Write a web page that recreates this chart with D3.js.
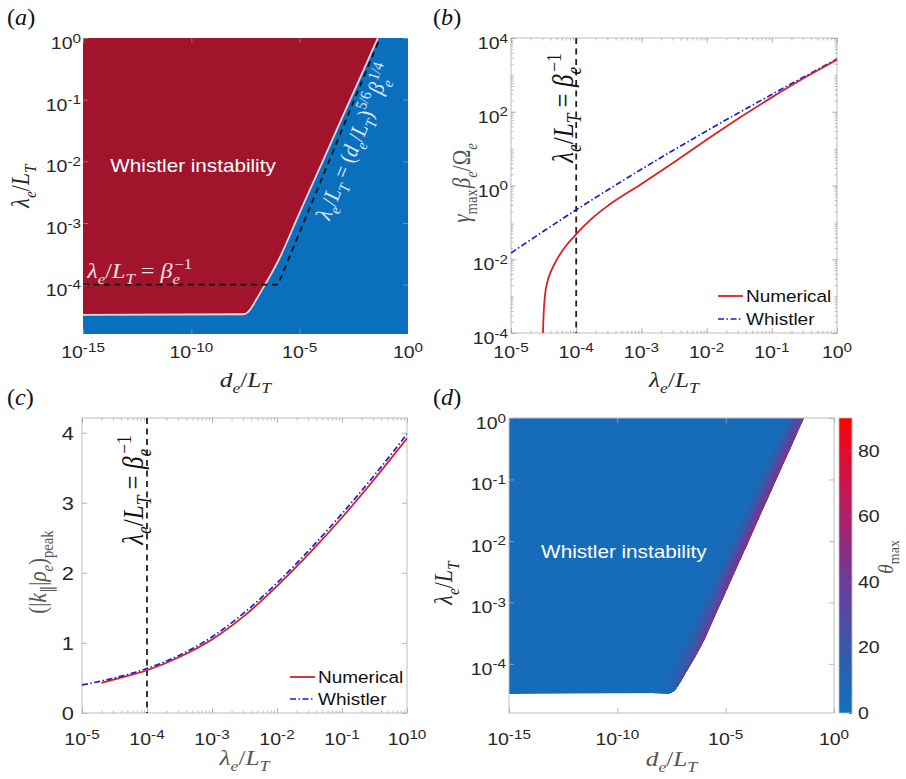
<!DOCTYPE html>
<html><head><meta charset="utf-8">
<script src="https://cdn.jsdelivr.net/npm/d3@7"></script>
<style>body{margin:0;background:#fff;}svg{display:block;}</style>
</head><body>
<script>
// ================= DATA =================
// Panel (a)/(d): instability boundary, log10(d_e/L_T) and log10(lambda_e/L_T)
const boundaryLogDe  = [-15, -7.6, -7.4, -7.2, -7.0, -6.7, -6.4, -6.0, -5.0, -4.0, -3.0, -2.0, -1.39];
const boundaryLogLam = [-4.49, -4.48, -4.45, -4.36, -4.24, -4.06, -3.88, -3.62, -2.83, -2.05, -1.26, -0.48, 0];
// theory lines (dashed): lambda = 1/beta and lambda = (d)^{5/6} beta^{1/4}
const theoryLogDe  = [-15, -6.0, -1.3];
const theoryLogLam = [-4, -4, 0];
// Panel (d): theta_max at the boundary (deg)
const edgeTheta = [0, 2, 8, 14, 20, 27, 33, 38, 46, 50, 50, 46, 40];
const baseTheta = 5;
const cbStops  = [0, 20, 40, 60, 80, 90];
const cbColors = ["#0b72be", "#3858a8", "#6c3b9c", "#b0206a", "#e30b2e", "#ff0000"];
const cbTicks  = [0, 20, 40, 60, 80];
// Panel (b): gamma_max beta_e / Omega_e vs lambda_e/L_T (log10)
const gNumLogLam = [-4.51, -4.50, -4.48, -4.44, -4.38, -4.29, -4.15, -4.0, -3.75, -3.5, -3.0, -2.5, -2.0, -1.5, -1.0, -0.5, 0];
const gNumLogVal = [-4.0, -3.5, -3.0, -2.6, -2.3, -1.985, -1.62, -1.32, -0.88, -0.53, 0.04, 0.63, 1.24, 1.83, 2.39, 2.92, 3.41];
const gWhLogLam  = [-5, -4, -3, -2, -1, 0];
const gWhLogVal  = [-1.83, -0.66, 0.44, 1.48, 2.47, 3.43];
const betaInvLog = -4;
// Panel (c): (|k_par| rho_e)_peak vs lambda_e/L_T
const kNumLogLam = [-4.7, -4.5, -4, -3.5, -3, -2.5, -2, -1.5, -1, -0.5, 0];
const kNumVal    = [0.43, 0.48, 0.61, 0.80, 1.05, 1.39, 1.81, 2.28, 2.79, 3.34, 3.92];
const kWhLogLam  = [-5, -4.5, -4, -3.5, -3, -2.5, -2, -1.5, -1, -0.5, 0];
const kWhVal     = [0.40, 0.50, 0.635, 0.825, 1.085, 1.435, 1.855, 2.33, 2.845, 3.395, 3.98];
// tick labels
const aXTickExp = [-15, -10, -5, 0];
const aYTickExp = [0, -1, -2, -3, -4];
const bXTickExp = [-5, -4, -3, -2, -1, 0];
const bYTickExp = [4, 2, 0, -2, -4];
const cXTickExp = [-5, -4, -3, -2, -1, 0];
const cXTickLab = ["-5", "-4", "-3", "-2", "-1", "10"];
const cYTicks   = [0, 1, 2, 3, 4];

// ================= STYLE / LAYOUT =================
const SANS = '"Liberation Sans", Arial, Helvetica, sans-serif';
const SERIF = '"Liberation Serif", "Times New Roman", serif';
const SX = 1.15;
const RED = "#a2132c", BLUE = "#0a70bd";
const NUMC = "#dc2020", WHC = "#1c1cd8";
const FRAME = "#bdbdbd", TICK = "#a8a8a8", LAB = "#262626";

const PA = {x0: 83, x1: 408, y0: 38, y1: 334};
const PB = {x0: 511, x1: 837, y0: 38, y1: 333};
const PC = {x0: 82, x1: 407, y0: 418, y1: 713};
const PD = {x0: 509, x1: 834, y0: 418, y1: 713};
const CB = {x0: 839, x1: 852, y0: 418, y1: 713};

const svg = d3.select("body").append("svg").attr("width", 906).attr("height", 779);
const defs = svg.append("defs");

function txt(parent, x, y, parts, o = {}) {
  const size = o.size || 17;
  const t = parent.append("text")
    .attr("transform", `translate(${x},${y}) scale(${o.sx ?? SX},1) rotate(${o.rot || 0})`)
    .attr("text-anchor", o.anchor || "start")
    .attr("fill", o.fill || LAB)
    .attr("font-family", o.family || SANS)
    .attr("font-size", size);
  let off = 0;
  for (const p of parts) {
    const [s, k = "n", it = 0, dx = 0] = p;
    let target = 0, fs = size;
    if (k === "sb") { target = size * 0.28; fs = size * 0.7; }
    if (k === "sp") { target = -size * 0.42; fs = size * 0.7; }
    if (k === "tsp") { target = -size * 0.38; fs = size * 0.78; }
    const ts = t.append("tspan").attr("dy", target - off).attr("font-size", fs).text(s);
    if (dx) ts.attr("dx", dx);
    if (it) ts.attr("font-style", "italic");
    off = target;
  }
  return t;
}
const tickLab = e => [["10"], [String(e), "tsp"]];
function logMinors(lo, hi) {
  const out = [];
  for (let k = lo; k < hi; k++) for (let m = 1; m < 10; m++) out.push(m * Math.pow(10, k));
  return out;
}
function ticks(g, P, xs, ys, xVals, yVals, size, col) {
  const mk = (axis, tr, vals) => {
    const a = g.append("g").attr("transform", tr)
      .call(axis.tickValues(vals).tickSizeInner(-size).tickSizeOuter(0).tickFormat(""));
    a.select(".domain").remove();
    a.selectAll("line").attr("stroke", col).attr("stroke-width", 0.8);
  };
  if (xVals) { mk(d3.axisBottom(xs), `translate(0,${P.y1})`, xVals); mk(d3.axisTop(xs), `translate(0,${P.y0})`, xVals); }
  if (yVals) { mk(d3.axisLeft(ys), `translate(${P.x0},0)`, yVals); mk(d3.axisRight(ys), `translate(${P.x1},0)`, yVals); }
}
function frame(g, P, col) {
  g.append("rect").attr("x", P.x0).attr("y", P.y0).attr("width", P.x1 - P.x0).attr("height", P.y1 - P.y0)
    .attr("fill", "none").attr("stroke", col).attr("stroke-width", 1);
}
function clip(id, P) {
  defs.append("clipPath").attr("id", id).append("rect")
    .attr("x", P.x0).attr("y", P.y0).attr("width", P.x1 - P.x0).attr("height", P.y1 - P.y0);
}
const pow = e => Math.pow(10, e);
const LamLT = [["λ", "n", 1], ["e", "sb", 1], ["/", "n", 0], ["L", "n", 1], ["T", "sb", 1]];
const DeLT  = [["d", "n", 1], ["e", "sb", 1], ["/", "n", 0], ["L", "n", 1], ["T", "sb", 1]];
const BetaInvLabel = [["λ", "n", 1], ["e", "sb", 1], ["/", "n", 0], ["L", "n", 1], ["T", "sb", 1],
  [" = ", "n", 0], ["β", "n", 1], ["e", "sb", 1], ["−1", "sp", 0, -5]];

// ================= PANEL (a) =================
{
  const g = svg.append("g");
  const xs = d3.scaleLog().domain([1e-15, 1]).range([PA.x0, PA.x1]);
  const ys = d3.scaleLog().domain([pow(-4.8), 1]).range([PA.y1, PA.y0]);
  clip("clipA", PA);
  const pg = g.append("g").attr("clip-path", "url(#clipA)");
  pg.append("rect").attr("x", PA.x0).attr("y", PA.y0).attr("width", PA.x1 - PA.x0).attr("height", PA.y1 - PA.y0).attr("fill", BLUE);
  const bpts = boundaryLogDe.map((d, i) => [xs(pow(d)), ys(pow(boundaryLogLam[i]))]);
  const poly = [[xs(1e-15), ys(1)], ...bpts, [xs(pow(boundaryLogDe[boundaryLogDe.length - 1])), ys(1)]];
  pg.append("path").attr("d", d3.line().curve(d3.curveLinear)(poly) + "Z").attr("fill", RED);
  pg.append("path").attr("d", d3.line().curve(d3.curveMonotoneX)(bpts)).attr("fill", "none")
    .attr("stroke", "#ead8de").attr("stroke-width", 1.8);
  const tpts = theoryLogDe.map((d, i) => [xs(pow(d)), ys(pow(theoryLogLam[i]))]);
  pg.append("path").attr("d", d3.line()(tpts)).attr("fill", "none").attr("stroke", "#111")
    .attr("stroke-width", 1.8).attr("stroke-dasharray", "6,4.5");
  ticks(g, PA, xs, ys, aXTickExp.map(pow), aYTickExp.map(pow), 5, "rgba(220,220,230,0.45)");
  aXTickExp.forEach(e => txt(g, xs(pow(e)), PA.y1 + 24, tickLab(e), {anchor: "middle"}));
  aYTickExp.forEach(e => txt(g, PA.x0 - 2, ys(pow(e)) + 11, tickLab(e), {anchor: "end"}));
  txt(g, xs(pow(-9.92)), ys(pow(-2.17)), [["Whistler instability"]], {anchor: "middle", size: 18, fill: "#fff"});
  txt(g, xs(pow(-14.8)), ys(pow(-3.89)), BetaInvLabel, {family: SERIF, size: 21, fill: "#f3e2e6"});
  // rotated label along the sloped theory line
  const dx = tpts[2][0] - tpts[1][0], dy = tpts[2][1] - tpts[1][1];
  const ang = Math.atan2(dy, dx / SX) * 180 / Math.PI;
  txt(g, xs(pow(-2.15)), ys(pow(-1.72)),
    [["λ", "n", 1], ["e", "sb", 1], ["/", "n", 0], ["L", "n", 1], ["T", "sb", 1], [" = ", "n", 0],
     ["(", "n", 0], ["d", "n", 1], ["e", "sb", 1], ["/", "n", 0], ["L", "n", 1], ["T", "sb", 1], [")", "n", 0],
     ["5/6", "sp", 0], ["β", "n", 1, 1], ["e", "sb", 1], ["1/4", "sp", 0, -4]],
    {family: SERIF, size: 20, fill: "#dce9f7", anchor: "middle", rot: ang});
  txt(g, 7, 25, [["("], ["a", "n", 1], [")"]], {family: SERIF, size: 23, fill: "#111", sx: 1.05});
  txt(g, 29, (PA.y0 + PA.y1) / 2, LamLT, {family: SERIF, size: 22, anchor: "middle", rot: -90});
  txt(g, (PA.x0 + PA.x1) / 2, 387, DeLT, {family: SERIF, size: 22, anchor: "middle"});
}

// ================= PANEL (b) =================
{
  const g = svg.append("g");
  const xs = d3.scaleLog().domain([1e-5, 1]).range([PB.x0, PB.x1]);
  const ys = d3.scaleLog().domain([1e-4, 1e4]).range([PB.y1, PB.y0]);
  clip("clipB", PB);
  frame(g, PB, FRAME);
  ticks(g, PB, xs, ys, logMinors(-5, 0), logMinors(-4, 4), 2.5, TICK);
  ticks(g, PB, xs, ys, bXTickExp.map(pow), bYTickExp.map(pow), 5, TICK);
  const pg = g.append("g").attr("clip-path", "url(#clipB)");
  pg.append("line").attr("x1", xs(pow(betaInvLog))).attr("x2", xs(pow(betaInvLog)))
    .attr("y1", PB.y0).attr("y2", PB.y1).attr("stroke", "#222").attr("stroke-width", 1.8).attr("stroke-dasharray", "6,4.5");
  const ln = d3.line().curve(d3.curveMonotoneX);
  pg.append("path").attr("d", ln(gWhLogLam.map((l, i) => [xs(pow(l)), ys(pow(gWhLogVal[i]))])))
    .attr("fill", "none").attr("stroke", WHC).attr("stroke-width", 1.7).attr("stroke-dasharray", "6,2.5,1.5,2.5");
  pg.append("path").attr("d", ln(gNumLogLam.map((l, i) => [xs(pow(l)), ys(pow(gNumLogVal[i]))])))
    .attr("fill", "none").attr("stroke", NUMC).attr("stroke-width", 1.8);
  bXTickExp.forEach(e => txt(g, xs(pow(e)), PB.y1 + 25, tickLab(e), {anchor: "middle"}));
  bYTickExp.forEach(e => txt(g, PB.x0 - 3, ys(pow(e)) + 11, tickLab(e), {anchor: "end"}));
  txt(g, xs(pow(betaInvLog)) - 3, 108, BetaInvLabel, {family: SERIF, size: 25, anchor: "middle", rot: -90, fill: "#111"});
  // legend
  g.append("line").attr("x1", 718).attr("x2", 743).attr("y1", 296).attr("y2", 296).attr("stroke", NUMC).attr("stroke-width", 1.8);
  g.append("line").attr("x1", 718).attr("x2", 743).attr("y1", 319).attr("y2", 319).attr("stroke", WHC).attr("stroke-width", 1.7).attr("stroke-dasharray", "6,2.5,1.5,2.5");
  txt(g, 746, 302, [["Numerical"]], {size: 16.5, fill: "#111"});
  txt(g, 746, 325, [["Whistler"]], {size: 16.5, fill: "#111"});
  txt(g, 433, 25, [["("], ["b", "n", 1], [")"]], {family: SERIF, size: 23, fill: "#111", sx: 1.05});
  txt(g, 470, 183, [["γ", "n", 1], ["max", "sb", 0], ["β", "n", 1, 1], ["e", "sb", 1], ["/", "n", 0], ["Ω", "n", 0], ["e", "sb", 1]],
    {family: SERIF, size: 21, anchor: "middle", rot: -90, fill: "#555"});
  txt(g, (PB.x0 + PB.x1) / 2, 387, LamLT, {family: SERIF, size: 22, anchor: "middle"});
}

// ================= PANEL (c) =================
{
  const g = svg.append("g");
  const xs = d3.scaleLog().domain([1e-5, 1]).range([PC.x0, PC.x1]);
  const ys = d3.scaleLinear().domain([0, 4.21]).range([PC.y1, PC.y0]);
  clip("clipC", PC);
  frame(g, PC, FRAME);
  ticks(g, PC, xs, ys, logMinors(-5, 0), null, 2.5, TICK);
  ticks(g, PC, xs, ys, cXTickExp.map(pow), cYTicks, 5, TICK);
  const pg = g.append("g").attr("clip-path", "url(#clipC)");
  pg.append("line").attr("x1", xs(pow(betaInvLog))).attr("x2", xs(pow(betaInvLog)))
    .attr("y1", PC.y0).attr("y2", PC.y1).attr("stroke", "#222").attr("stroke-width", 1.8).attr("stroke-dasharray", "6,4.5");
  const ln = d3.line().curve(d3.curveMonotoneX);
  pg.append("path").attr("d", ln(kNumLogLam.map((l, i) => [xs(pow(l)), ys(kNumVal[i])])))
    .attr("fill", "none").attr("stroke", NUMC).attr("stroke-width", 1.8);
  pg.append("path").attr("d", ln(kWhLogLam.map((l, i) => [xs(pow(l)), ys(kWhVal[i])])))
    .attr("fill", "none").attr("stroke", WHC).attr("stroke-width", 1.7).attr("stroke-dasharray", "6,2.5,1.5,2.5");
  cXTickExp.forEach((e, i) => txt(g, xs(pow(e)), PC.y1 + 32, [["10"], [cXTickLab[i], "tsp"]], {anchor: "middle"}));
  cYTicks.forEach(v => txt(g, PC.x0 - 8, ys(v) + 7, [[String(v)]], {anchor: "end", size: 19}));
  txt(g, xs(pow(betaInvLog)) - 4, 490, BetaInvLabel, {family: SERIF, size: 25, anchor: "middle", rot: -90, fill: "#111"});
  g.append("line").attr("x1", 290).attr("x2", 315).attr("y1", 677).attr("y2", 677).attr("stroke", NUMC).attr("stroke-width", 1.8);
  g.append("line").attr("x1", 290).attr("x2", 315).attr("y1", 699).attr("y2", 699).attr("stroke", WHC).attr("stroke-width", 1.7).attr("stroke-dasharray", "6,2.5,1.5,2.5");
  txt(g, 318, 683, [["Numerical"]], {size: 16.5, fill: "#111"});
  txt(g, 318, 705, [["Whistler"]], {size: 16.5, fill: "#111"});
  txt(g, 7, 405, [["("], ["c", "n", 1], [")"]], {family: SERIF, size: 23, fill: "#111", sx: 1.05});
  txt(g, 46, 572, [["(|", "n", 0], ["k", "n", 1], ["∥", "sb", 0], ["|", "n", 0], ["ρ", "n", 1], ["e", "sb", 1], [")", "n", 0], ["peak", "sb", 0]],
    {family: SERIF, size: 21, anchor: "middle", rot: -90, fill: "#555"});
  txt(g, (PC.x0 + PC.x1) / 2, 765, LamLT, {family: SERIF, size: 22, anchor: "middle", fill: "#555"});
}

// ================= PANEL (d) =================
{
  const g = svg.append("g");
  const xs = d3.scaleLog().domain([1e-15, 1]).range([PD.x0, PD.x1]);
  const ys = d3.scaleLog().domain([pow(-4.8), 1]).range([PD.y1, PD.y0]);
  const cmap = d3.scaleLinear().domain(cbStops).range(cbColors).interpolate(d3.interpolateRgb).clamp(true);
  clip("clipD", PD);
  const bpts = boundaryLogDe.map((d, i) => [xs(pow(d)), ys(pow(boundaryLogLam[i]))]);
  const poly = [[xs(1e-15), ys(1)], ...bpts, [xs(pow(boundaryLogDe[boundaryLogDe.length - 1])), ys(1)]];
  const polyD = d3.line()(poly) + "Z";
  defs.append("clipPath").attr("id", "clipDpoly").append("path").attr("d", polyD);
  const pg = g.append("g").attr("clip-path", "url(#clipD)");
  const inner = pg.append("g").attr("clip-path", "url(#clipDpoly)");
  inner.append("path").attr("d", polyD).attr("fill", cmap(baseTheta));
  const layers = [{w: 30, f: 0.18}, {w: 22, f: 0.35}, {w: 15, f: 0.55}, {w: 10, f: 0.75}, {w: 5, f: 0.95}];
  layers.forEach(L => {
    for (let i = 1; i < bpts.length - 1; i++) {
      const th = baseTheta + ((edgeTheta[i] + edgeTheta[i + 1]) / 2 - baseTheta) * L.f;
      inner.append("line").attr("x1", bpts[i][0]).attr("y1", bpts[i][1]).attr("x2", bpts[i + 1][0]).attr("y2", bpts[i + 1][1])
        .attr("stroke", cmap(Math.max(th, baseTheta))).attr("stroke-width", L.w).attr("stroke-linecap", "round");
    }
  });
  frame(g, PD, FRAME);
  ticks(g, PD, xs, ys, aXTickExp.map(pow), aYTickExp.map(pow), 5, TICK);
  aXTickExp.forEach(e => txt(g, xs(pow(e)), PD.y1 + 32, tickLab(e), {anchor: "middle"}));
  aYTickExp.forEach(e => txt(g, PD.x0 - 3, ys(pow(e)) + 11, tickLab(e), {anchor: "end"}));
  txt(g, xs(pow(-9.7)), ys(pow(-2.27)), [["Whistler instability"]], {anchor: "middle", size: 18, fill: "#fff"});
  // colorbar
  const grad = defs.append("linearGradient").attr("id", "cbgrad").attr("x1", 0).attr("y1", 1).attr("x2", 0).attr("y2", 0);
  cbStops.forEach((s, i) => grad.append("stop").attr("offset", s / 90).attr("stop-color", cbColors[i]));
  const cy = d3.scaleLinear().domain([0, 90]).range([CB.y1, CB.y0]);
  g.append("rect").attr("x", CB.x0).attr("y", CB.y0).attr("width", CB.x1 - CB.x0).attr("height", CB.y1 - CB.y0)
    .attr("fill", "url(#cbgrad)").attr("stroke", FRAME).attr("stroke-width", 0.8);
  const ca = g.append("g").attr("transform", `translate(${CB.x1},0)`)
    .call(d3.axisRight(cy).tickValues(cbTicks).tickSizeInner(-3).tickSizeOuter(0).tickFormat(""));
  ca.select(".domain").remove();
  ca.selectAll("line").attr("stroke", "#777");
  cbTicks.forEach(v => txt(g, CB.x1 + 6, cy(v) + 6, [[String(v)]], {size: 17}));
  txt(g, 893, 557, [["θ", "n", 1], ["max", "sb", 0]], {family: SERIF, size: 20, anchor: "middle", rot: -90, fill: "#555", sx: 1.05});
  txt(g, 433, 405, [["("], ["d", "n", 1], [")"]], {family: SERIF, size: 23, fill: "#111", sx: 1.05});
  txt(g, 452, 583, LamLT, {family: SERIF, size: 22, anchor: "middle", rot: -90});
  txt(g, (PD.x0 + PD.x1) / 2, 766, DeLT, {family: SERIF, size: 22, anchor: "middle", fill: "#555"});
}
</script>
</body></html>
